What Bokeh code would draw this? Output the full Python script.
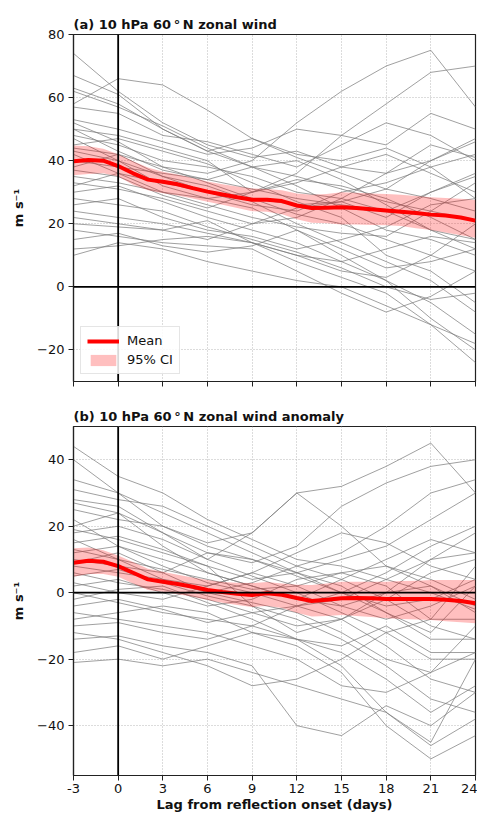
from bokeh.plotting import figure
from bokeh.models import Span, Legend, LegendItem, FixedTicker, CustomLabelingPolicy
from bokeh.layouts import column
from bokeh.embed import file_html
from bokeh.resources import INLINE

FONT = "DejaVu Sans"

# ---------------- data ----------------
LAG = list(range(-3, 25))
LAG3 = [-3, 0, 3, 6, 9, 12, 15, 18, 21, 24]
XTICKS = [-3, 0, 3, 6, 9, 12, 15, 18, 21, 24]
XTICK_LABELS = ["-3", "0", "3", "6", "9", "12", "15", "18", "21", "24"]
YTICKS_A = [-20, 0, 20, 40, 60, 80]
YTICKS_B = [-40, -20, 0, 20, 40]

TITLE_A = "(a) 10 hPa 60\u2009\u00b0\u2009N zonal wind"
TITLE_B = "(b) 10 hPa 60\u2009\u00b0\u2009N zonal wind anomaly"
YLABEL = "m s\u207b\u00b9"
XLABEL = "Lag from reflection onset (days)"

# individual events, panel (a), sampled every 3 days
EVENTS_A = [
    [74, 62, 52, 45, 41, 43, 38, 36, 40, 46],
    [58, 66, 64, 56, 47, 41, 36, 31, 28, 24],
    [67, 61, 50, 43, 38, 35, 31, 27, 24, 21],
    [44, 42, 38, 36, 40, 52, 62, 70, 75, 57],
    [50, 48, 44, 40, 30, 36, 48, 58, 68, 70],
    [63, 58, 50, 43, 47, 42, 40, 44, 38, 28],
    [53, 50, 46, 42, 44, 50, 48, 45, 55, 50],
    [48, 45, 40, 38, 35, 30, 28, 36, 45, 41],
    [62, 57, 51, 44, 38, 32, 25, 18, 15, 10],
    [45, 47, 43, 39, 33, 27, 22, 10, 5, -5],
    [40, 38, 36, 34, 38, 40, 34, 26, 18, 12],
    [38, 42, 35, 32, 27, 20, 14, 8, 2, -8],
    [35, 33, 30, 28, 30, 33, 38, 42, 36, 30],
    [52, 46, 38, 33, 28, 26, 27, 31, 40, 47],
    [43, 40, 32, 28, 25, 18, 10, 2, -10, -20],
    [33, 31, 28, 24, 20, 22, 28, 24, 18, 15],
    [30, 32, 27, 22, 18, 14, 8, 2, -5, -15],
    [47, 40, 35, 30, 28, 23, 20, 15, 10, 5],
    [28, 26, 24, 19, 15, 11, 6, 0, -4, -2],
    [24, 22, 20, 17, 14, 8, 3, -2, -12, -24],
    [22, 20, 18, 15, 20, 25, 27, 22, 30, 35],
    [20, 19, 18, 21, 14, 10, 8, 12, 16, 14],
    [18, 16, 14, 13, 12, 5, -2, -8, -3, 5],
    [15, 17, 13, 11, 13, 18, 12, 6, 8, 12],
    [12, 13, 15, 16, 14, 10, 5, 3, 10, 20],
    [10, 14, 12, 8, 5, 2, 0, -6, -12, -18],
    [57, 55, 48, 46, 42, 38, 45, 52, 48, 40],
    [42, 36, 33, 30, 26, 24, 30, 33, 38, 42],
    [37, 35, 29, 25, 30, 34, 32, 28, 22, 15],
    [50, 43, 37, 34, 31, 28, 26, 24, 30, 36],
    [32, 36, 30, 26, 22, 19, 17, 16, 24, 33],
    [26, 28, 22, 18, 16, 12, 15, 19, 26, 28],
]

MEAN_A = [39.8, 40.2, 40.0, 38.3, 36.0, 34.0, 33.3, 32.5, 31.3, 30.2, 29.3, 28.4, 27.6, 27.6,
          27.2, 25.8, 25.0, 25.1, 25.2, 25.0, 24.6, 24.2, 23.8, 23.4, 22.9, 22.6, 22.0, 21.0]
CI_HI_A = [44.8, 44.6, 43.8, 42.0, 39.8, 37.8, 36.5, 35.6, 34.5, 33.4, 32.5, 31.8, 31.2, 31.0,
           30.6, 29.6, 29.2, 29.4, 30.0, 29.8, 29.6, 29.4, 29.2, 28.8, 28.4, 28.2, 27.9, 27.5]
CI_LO_A = [35.4, 35.8, 36.0, 35.0, 32.4, 30.6, 29.7, 29.0, 28.0, 27.0, 26.0, 25.0, 24.0, 23.8,
           23.0, 21.4, 20.3, 20.2, 19.8, 19.8, 19.6, 19.5, 19.3, 18.6, 18.0, 17.2, 16.4, 15.6]

# individual events, panel (b), sampled every 3 days
EVENTS_B = [
    [44, 35, 30, 22, 16, 10, 8, 4, 0, -5],
    [40, 30, 24, 18, 12, 6, 2, -6, -12, 2],
    [31, 28, 26, 20, 14, 8, 12, 20, 30, 34],
    [25, 22, 20, 15, 18, 30, 32, 38, 45, 30],
    [20, 24, 18, 12, 9, 14, 26, 33, 38, 40],
    [28, 26, 18, 10, 5, 0, -6, -12, -20, -20],
    [18, 20, 16, 10, 18, 30, 20, 8, 2, -4],
    [15, 17, 13, 8, 4, 6, 10, 14, 22, 30],
    [22, 14, 8, 3, 0, -4, -8, -16, -26, -30],
    [12, 14, 10, 6, 2, -2, 4, 10, 16, 12],
    [10, 8, 6, 12, 10, 6, 0, -4, -2, 4],
    [16, 10, 4, 0, -3, -6, -12, -20, -24, -18],
    [8, 6, 4, 2, 6, 12, 18, 15, 8, 4],
    [5, 7, 3, -1, -4, -8, -14, -22, -32, -36],
    [6, 3, 1, -2, -6, -10, -8, 0, 10, 18],
    [2, 4, 0, -4, -2, 4, 6, 2, -8, -8],
    [0, -3, -6, -8, -10, -14, -22, -36, -46, -38],
    [-4, -2, -5, -9, -6, -4, -2, 4, 10, 12],
    [-6, -8, -10, -12, -16, -20, -28, -30, -24, -10],
    [-10, -9, -12, -14, -10, -4, 0, -6, -14, -14],
    [-14, -13, -16, -18, -22, -40, -43, -34, -40, -30],
    [-18, -16, -20, -16, -12, -14, -18, -26, -36, -28],
    [-21, -20, -22, -20, -24, -28, -32, -36, -45, -20],
    [-12, -14, -18, -22, -28, -26, -20, -12, -8, 8],
    [34, 30, 20, 14, 10, 5, 0, 6, 14, 20],
    [3, 0, -2, 2, 6, 2, -4, -8, -4, 2],
    [13, 10, 7, 4, 1, 2, 6, 8, 4, -2],
    [-2, 1, 2, -3, -8, -14, -16, -10, -18, -18],
    [9, 12, 6, 0, 3, 8, 4, -2, -10, -14],
    [27, 24, 14, 6, 2, -2, -4, 0, 2, -6],
    [-8, -6, -4, -6, -12, -16, -24, -40, -50, -43],
    [19, 16, 12, 8, -4, -12, -8, -2, 6, 10],
]

MEAN_B = [9.0, 9.6, 9.3, 8.0, 6.0, 4.0, 3.3, 2.6, 1.8, 0.8, 0.2, -0.3, -0.7, -0.2,
          -0.6, -1.6, -2.5, -2.1, -1.7, -1.6, -1.7, -1.9, -1.9, -1.9, -1.9, -2.1, -2.5, -3.2]
CI_HI_B = [13.4, 13.6, 12.8, 11.2, 9.2, 7.2, 6.3, 5.4, 4.6, 3.8, 3.2, 3.0, 2.9, 3.2,
           2.8, 2.4, 2.3, 2.8, 3.3, 3.3, 3.3, 3.3, 3.5, 3.6, 3.8, 3.8, 3.8, 3.8]
CI_LO_B = [4.8, 5.6, 5.6, 4.8, 2.8, 0.8, 0.3, -0.5, -1.2, -2.2, -3.0, -3.7, -4.3, -4.0,
           -4.6, -6.0, -7.2, -7.0, -6.7, -7.0, -7.3, -7.7, -7.9, -8.1, -8.2, -8.6, -8.9, -9.2]


def label_for(v):
    return ("\u2212" + str(abs(v))) if v < 0 else str(v)


def make_panel(title, events, mean, lo, hi, yr, yticks, height, border_top,
               border_bottom, show_xlabels, with_legend):
    p = figure(width=477, height=height, x_range=(-3, 24), y_range=yr,
               output_backend="svg", toolbar_location=None,
               min_border_left=73, min_border_right=2,
               min_border_top=border_top, min_border_bottom=border_bottom)
    p.title.text = title
    p.title.text_font = FONT
    p.title.text_font_size = "13px"
    p.title.text_font_style = "bold"
    p.title.text_color = "#111111"
    p.title.align = "left"
    p.title.offset = 0
    p.title.standoff = 5
    p.outline_line_color = "#222222"
    p.outline_line_width = 1.2
    p.background_fill_color = "white"
    p.border_fill_color = "white"

    # grid
    for g, ticks in ((p.xgrid[0], XTICKS), (p.ygrid[0], yticks)):
        g.ticker = FixedTicker(ticks=ticks)
        g.grid_line_color = "#b8b8b8"
        g.grid_line_dash = "1 2"
        g.grid_line_width = 1

    # axes
    p.xaxis.ticker = FixedTicker(ticks=XTICKS)
    p.xaxis.major_label_overrides = dict(zip(XTICKS, XTICK_LABELS))
    p.yaxis.ticker = FixedTicker(ticks=yticks)
    p.yaxis.major_label_overrides = {v: label_for(v) for v in yticks}
    for ax in (p.xaxis[0], p.yaxis[0]):
        ax.axis_line_color = "#222222"
        ax.axis_line_width = 1.2
        ax.major_tick_line_color = "#222222"
        ax.major_tick_out = 5
        ax.major_tick_in = 0
        ax.minor_tick_line_color = None
        ax.major_label_text_font = FONT
        ax.major_label_text_font_size = "13px"
        ax.major_label_text_color = "#111111"
        ax.axis_label_text_font = FONT
        ax.axis_label_text_font_size = "13px"
        ax.axis_label_text_font_style = "bold"
        ax.axis_label_text_color = "#111111"
    p.yaxis.axis_label = YLABEL
    p.yaxis.axis_label_standoff = 8
    p.yaxis.major_label_standoff = 4
    if show_xlabels:
        p.xaxis.axis_label = XLABEL
        p.xaxis.axis_label_standoff = 1
        p.xaxis.major_label_standoff = 3
    else:
        # tick marks only, no tick labels (as in the reference)
        p.xaxis.major_label_policy = CustomLabelingPolicy(
            code="for (const i of Array.from(indices)) { indices.unset(i) }\nreturn indices")
        p.xaxis.major_label_standoff = 0

    # individual events
    p.multi_line(xs=[LAG3] * len(events), ys=events, line_color="#7a7a7a",
                 line_width=0.9, line_alpha=0.8)

    # reference lines
    p.add_layout(Span(location=0, dimension="width", line_color="black", line_width=1.8))
    p.add_layout(Span(location=0, dimension="height", line_color="black", line_width=1.8))

    band = p.varea(x=LAG, y1=lo, y2=hi, fill_color="red", fill_alpha=0.25)
    mline = p.line(x=LAG, y=mean, line_color="red", line_width=4)

    if with_legend:
        leg = Legend(items=[LegendItem(label="Mean", renderers=[mline]),
                            LegendItem(label="95% CI", renderers=[band])],
                     location="bottom_left")
        leg.label_text_font = FONT
        leg.label_text_font_size = "13px"
        leg.label_text_color = "#111111"
        leg.glyph_width = 32
        leg.glyph_height = 14
        leg.label_standoff = 8
        leg.spacing = 4
        leg.padding = 6
        leg.margin = 7
        leg.border_line_color = "#cccccc"
        leg.border_line_width = 1
        leg.background_fill_alpha = 0.85
        p.add_layout(leg)
    return p


pa = make_panel(TITLE_A, EVENTS_A, MEAN_A, CI_LO_A, CI_HI_A, (-30, 80), YTICKS_A,
                398, 34, 14, False, True)
pb = make_panel(TITLE_B, EVENTS_B, MEAN_B, CI_LO_B, CI_HI_B, (-55, 50), YTICKS_B,
                420, 28, 43, True, False)

layout = column(pa, pb, spacing=0)
open("out.html", "w").write(file_html(layout, INLINE))
